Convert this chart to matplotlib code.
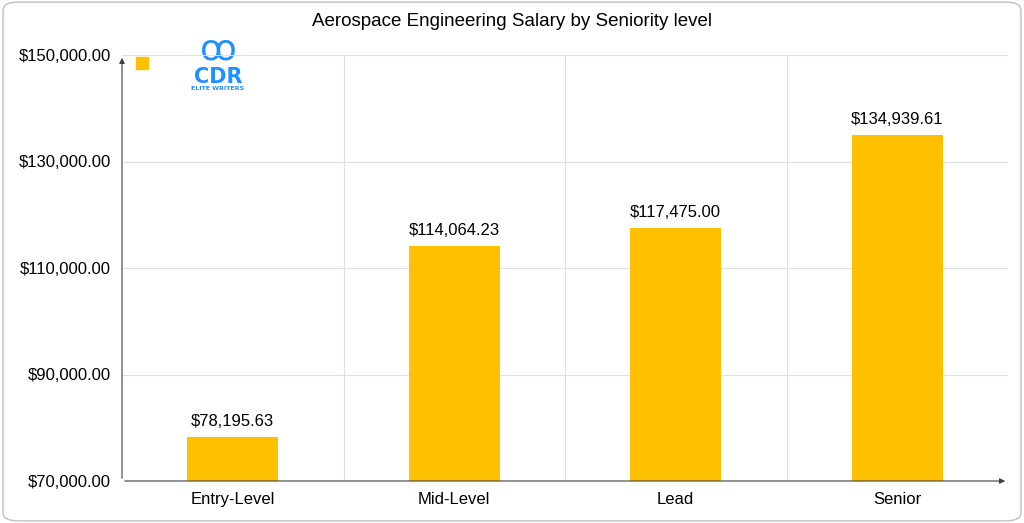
import matplotlib
matplotlib.use("Agg")
import matplotlib.pyplot as plt
from matplotlib.patches import FancyBboxPatch

categories = ["Entry-Level", "Mid-Level", "Lead", "Senior"]
salaries = [78195.63, 114064.23, 117475.00, 134939.61]
yticks = [70000, 90000, 110000, 130000, 150000]

fig = plt.figure(figsize=(10.24, 5.23), dpi=100)
border = FancyBboxPatch((0.003, 0.004), 0.994, 0.992, boxstyle="round,pad=0,rounding_size=0.015",
                        transform=fig.transFigure, fc="white", ec="#bfbfbf", lw=1, zorder=-10)
fig.patches.append(border)
ax = fig.add_axes([122/1024, 1-481/523, (1008-122)/1024, (481-55)/523])
ax.set_zorder(5)
ax.set_facecolor("none")
x = range(len(categories))
ax.bar(x, salaries, width=0.41, color="#FFC000", zorder=3)
for i, v in enumerate(salaries):
    ax.text(i, v + 1500, f"${v:,.2f}", ha="center", va="bottom", fontsize=12, family="Liberation Sans")
ax.set_ylim(70000, 150000)
ax.set_xlim(-0.5, 3.5)
ax.set_yticks(yticks)
ax.set_yticklabels([f"${t:,.2f}" for t in yticks], fontsize=12, family="Liberation Sans")
ax.set_xticks(list(x))
ax.set_xticklabels(categories, fontsize=12, family="Liberation Sans")
ax.tick_params(length=0, pad=8)
ax.grid(True, axis="y", color="#e0e0e0", lw=0.8, zorder=0)
for xm in [0.5, 1.5, 2.5]:
    ax.axvline(xm, color="#e0e0e0", lw=0.8, zorder=0)
for s in ax.spines.values():
    s.set_visible(False)
ax.annotate("", xy=(0, 1.0), xytext=(0, 0), xycoords="axes fraction",
            arrowprops=dict(arrowstyle="-|>", color="#404040", lw=0.8, mutation_scale=8))
ax.annotate("", xy=(1.0, 0), xytext=(0, 0), xycoords="axes fraction",
            arrowprops=dict(arrowstyle="-|>", color="#404040", lw=0.8, mutation_scale=8))
fig.text(0.5, 1-22/523, "Aerospace Engineering Salary by Seniority level", ha="center", va="center",
         fontsize=13.5, family="Liberation Sans")
fig.patches.append(plt.Rectangle((136/1024, 1-69/523), 12/1024, 12/523, transform=fig.transFigure, color="#FFC000"))
fig.text(218/1024, 1-50/523, "ꝏ", ha="center", va="center", fontsize=26, color="#1E90FF")
fig.text(218/1024, 1-77/523, "CDR", ha="center", va="center", fontsize=15, color="#1E90FF", weight="bold")
fig.text(218/1024, 1-88/523, "ELITE WRITERS", ha="center", va="center", fontsize=4.5, color="#1E90FF", weight="bold")
fig.savefig("out.png", dpi=100)
